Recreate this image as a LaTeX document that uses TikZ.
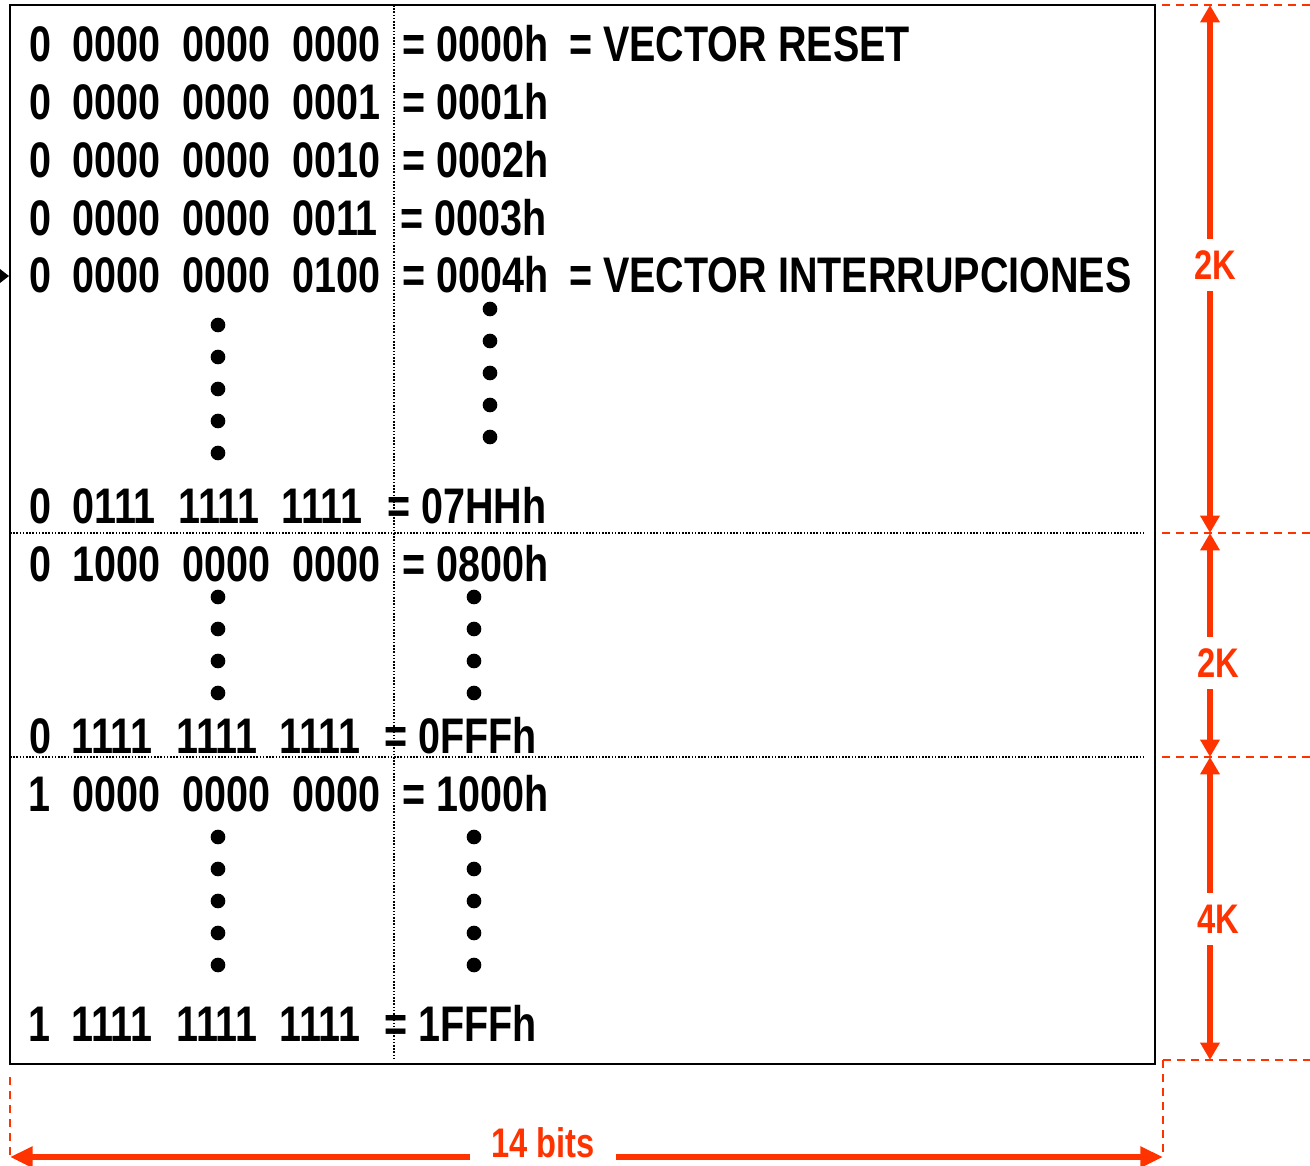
\documentclass[tikz,border=0pt]{standalone}
\usepackage{fontspec}
\setmainfont{Liberation Sans}[FakeStretch=0.79]
\usetikzlibrary{arrows.meta}
\definecolor{org}{HTML}{FF3300}
\begin{document}
\begin{tikzpicture}[x=0.75pt,y=-0.75pt,
 t/.style={anchor=base west, inner sep=0, font=\fontsize{37.5}{40}\selectfont\bfseries},
 lab/.style={font=\fontsize{31}{34}\selectfont\bfseries, text=org, fill=white, inner xsep=2pt, inner ysep=9pt},
 dimarrow/.style={org, line width=4.5pt, {Triangle[length=13pt,width=14pt]}-{Triangle[length=13pt,width=14pt]}},
 widearrow/.style={org, line width=5pt, {Triangle[length=17pt,width=15pt]}-{Triangle[length=17pt,width=15pt]}},
 guide/.style={org, line width=1.5pt, dash pattern=on 6pt off 4.5pt},
 sep/.style={line width=0.9pt, dash pattern=on 1.2pt off 1.2pt},
 dot/.style={circle, fill, inner sep=0, minimum size=11pt}]
\useasboundingbox (0,0) rectangle (1310,1165);

% frame and separators
\draw[line width=1.5pt] (10,5) rectangle (1155,1064);
\draw[sep] (394,5) -- (394,1058);
\draw[sep] (10,533) -- (1145,533);
\draw[sep] (10,757) -- (1145,757);

% small incoming arrow tip
\fill (0,269) -- (9,276) -- (0,283) -- cycle;

% rows
\node[t] (r1a) at (29,61) {0};
\node[t] (r1b) at (72,61) {0000};
\node[t] (r1c) at (182,61) {0000};
\node[t] (r1d) at (292,61) {0000};
\node[t] (r1e) at (402,61) {= 0000h};
\node[t] (r1f) at (569,61) {= VECTOR RESET};

\node[t] (r2a) at (29,119) {0};
\node[t] (r2b) at (72,119) {0000};
\node[t] (r2c) at (182,119) {0000};
\node[t] (r2d) at (292,119) {0001};
\node[t] (r2e) at (402,119) {= 0001h};

\node[t] (r3a) at (29,177) {0};
\node[t] (r3b) at (72,177) {0000};
\node[t] (r3c) at (182,177) {0000};
\node[t] (r3d) at (292,177) {0010};
\node[t] (r3e) at (402,177) {= 0002h};

\node[t] (r4a) at (29,235) {0};
\node[t] (r4b) at (72,235) {0000};
\node[t] (r4c) at (182,235) {0000};
\node[t] (r4d) at (292,235) {0011};
\node[t] (r4e) at (400,235) {= 0003h};

\node[t] (r5a) at (29,292) {0};
\node[t] (r5b) at (72,292) {0000};
\node[t] (r5c) at (182,292) {0000};
\node[t] (r5d) at (292,292) {0100};
\node[t] (r5e) at (402,292) {= 0004h};
\node[t] (r5f) at (569,292) {= VECTOR INTERRUPCIONES};

\node[t] (r6a) at (29,523) {0};
\node[t] (r6b) at (72,523) {0111};
\node[t] (r6c) at (178,523) {1111};
\node[t] (r6d) at (281,523) {1111};
\node[t] (r6e) at (387,523) {= 07HHh};

\node[t] (r7a) at (29,581) {0};
\node[t] (r7b) at (72,581) {1000};
\node[t] (r7c) at (182,581) {0000};
\node[t] (r7d) at (292,581) {0000};
\node[t] (r7e) at (402,581) {= 0800h};

\node[t] (r8a) at (29,753) {0};
\node[t] (r8b) at (71,753) {1111};
\node[t] (r8c) at (176,753) {1111};
\node[t] (r8d) at (279,753) {1111};
\node[t] (r8e) at (384,753) {= 0FFFh};

\node[t] (r9a) at (28,811) {1};
\node[t] (r9b) at (72,811) {0000};
\node[t] (r9c) at (182,811) {0000};
\node[t] (r9d) at (292,811) {0000};
\node[t] (r9e) at (402,811) {= 1000h};

\node[t] (r10a) at (28,1041) {1};
\node[t] (r10b) at (71,1041) {1111};
\node[t] (r10c) at (176,1041) {1111};
\node[t] (r10d) at (279,1041) {1111};
\node[t] (r10e) at (384,1041) {= 1FFFh};

% ellipsis dots
\foreach \y in {325,357,389,421,453} \node[dot] at (218,\y) {};
\foreach \y in {309,341,373,405,437} \node[dot] at (490,\y) {};
\foreach \y in {597,629,661,693} {\node[dot] at (218,\y) {}; \node[dot] at (474,\y) {};}
\foreach \y in {837,869,901,933,965} {\node[dot] at (218,\y) {}; \node[dot] at (474,\y) {};}

% guide lines
\draw[guide] (1162,5) -- (1310,5);
\draw[guide] (1162,533) -- (1310,533);
\draw[guide] (1162,757) -- (1310,757);
\draw[guide] (1163,1060) -- (1310,1060);
\draw[guide] (1163,1060) -- (1163,1157);
\draw[guide] (10,1077) -- (10,1157);

% dimension arrows
\coordinate (d0) at (1210,5);
\coordinate (d1) at (1210,533);
\coordinate (d2) at (1210,757);
\coordinate (d3) at (1210,1060);
\coordinate (bl) at (10,1157);
\coordinate (br) at (1163,1157);
\draw[dimarrow] (d0) -- (d1);
\draw[dimarrow] (d1) -- (d2);
\draw[dimarrow] (d2) -- (d3);
\draw[widearrow] (bl) -- (br);
\node[lab] (k1) at (1215,265) {2K};
\node[lab] (k2) at (1218,663) {2K};
\node[lab] (k3) at (1218,919) {4K};
\node[lab, inner xsep=16pt, inner ysep=6pt] (bits) at (543,1143) {14 bits};
\end{tikzpicture}
\end{document}
